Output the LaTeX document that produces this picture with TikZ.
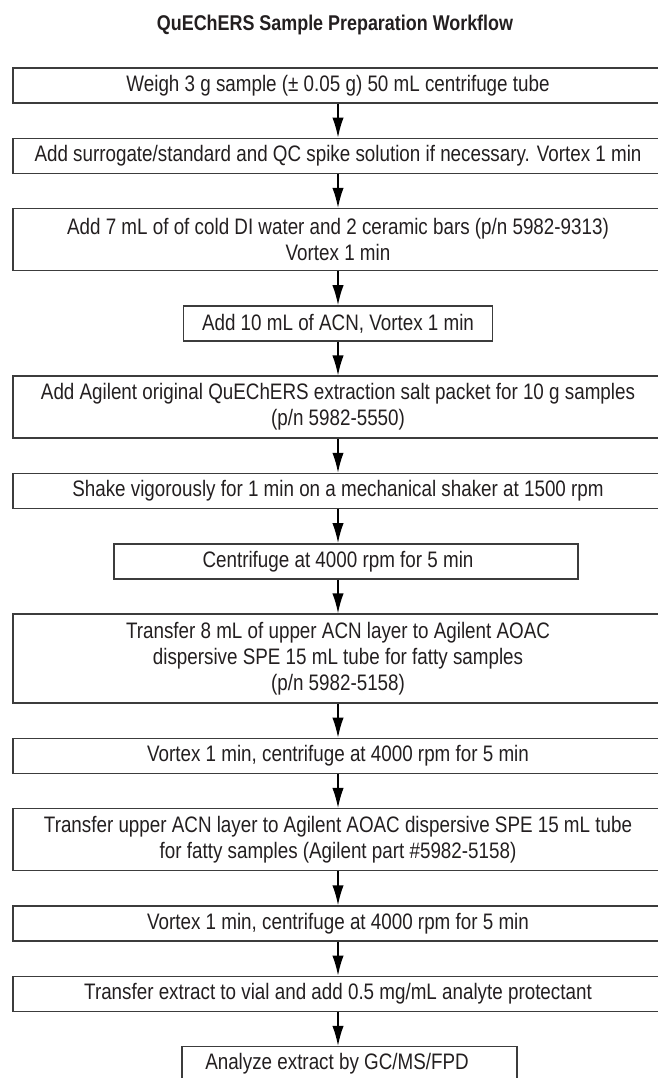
\documentclass[tikz,border=0pt]{standalone}
\usepackage{fontspec}
\setmainfont{Liberation Sans}[FakeStretch=0.84]
\usetikzlibrary{arrows.meta}
\definecolor{inkgray}{HTML}{231F20}
\definecolor{rulegray}{HTML}{3C3C3C}
\begin{document}
\begin{tikzpicture}[x=0.75pt, y=-0.75pt,
    stepbox/.style={draw=rulegray, line width=1.1pt, text=inkgray, align=center, inner sep=0pt,
      minimum height=26.25pt, font=\fontsize{16.8}{19.5}\selectfont},
    fullbox/.style={stepbox, minimum width=487.5pt},
    flow/.style={draw=black, line width=1.1pt, -{Latex[length=15pt, width=8.5pt]}}]
    \useasboundingbox (0,0) rectangle (657,1078);
    \node[text=inkgray, font=\bfseries\fontsize{16}{19.5}\selectfont] (title) at (335,25) {QuEChERS Sample Preparation Workflow};
    \node[fullbox] (weigh) at (338,85.5) {Weigh 3 g sample (± 0.05 g) 50 mL centrifuge tube};
    \node[fullbox] (spike) at (338,155.8) {Add surrogate/standard and QC spike solution if necessary. Vortex 1 min};
    \node[fullbox, minimum height=46.5pt] (water) at (338,239.6) {Add 7 mL of of cold DI water and 2 ceramic bars (p/n 5982-9313)\\Vortex 1 min};
    \node[stepbox, minimum width=231.75pt] (acn) at (338,323.4) {Add 10 mL of ACN, Vortex 1 min};
    \node[fullbox, minimum height=46.5pt] (salt) at (338,407.2) {Add Agilent original QuEChERS extraction salt packet for 10 g samples\\(p/n 5982-5550)};
    \node[fullbox] (shake) at (338,491) {Shake vigorously for 1 min on a mechanical shaker at 1500 rpm};
    \node[stepbox, minimum width=348pt] (spin) at (346,561.3) {\hspace*{-12pt}Centrifuge at 4000 rpm for 5 min};
    \node[fullbox, minimum height=66.75pt] (dspea) at (338,658.6) {Transfer 8 mL of upper ACN layer to Agilent AOAC\\dispersive SPE 15 mL tube for fatty samples\\(p/n 5982-5158)};
    \node[fullbox] (vortexa) at (338,755.9) {Vortex 1 min, centrifuge at 4000 rpm for 5 min};
    \node[fullbox, minimum height=46.5pt] (dspeb) at (338,839.7) {Transfer upper ACN layer to Agilent AOAC dispersive SPE 15 mL tube\\for fatty samples (Agilent part \#5982-5158)};
    \node[fullbox] (vortexb) at (338,923.5) {Vortex 1 min, centrifuge at 4000 rpm for 5 min};
    \node[fullbox] (vial) at (338,993.8) {Transfer extract to vial and add 0.5 mg/mL analyte protectant};
    \node[stepbox, minimum width=251.25pt] (gcms) at (349.5,1064.1) {\hspace*{-18.75pt}Analyze extract by GC/MS/FPD};
    \draw[flow] (weigh) -- (spike);
    \draw[flow] (spike) -- (water);
    \draw[flow] (water) -- (acn);
    \draw[flow] (acn) -- (salt);
    \draw[flow] (salt) -- (shake);
    \draw[flow] (shake) -- (shake.south |- spin.north);
    \draw[flow] (shake.south |- spin.south) -- (dspea);
    \draw[flow] (dspea) -- (vortexa);
    \draw[flow] (vortexa) -- (dspeb);
    \draw[flow] (dspeb) -- (vortexb);
    \draw[flow] (vortexb) -- (vial);
    \draw[flow] (vial) -- (vial.south |- gcms.north);
\end{tikzpicture}
\end{document}
